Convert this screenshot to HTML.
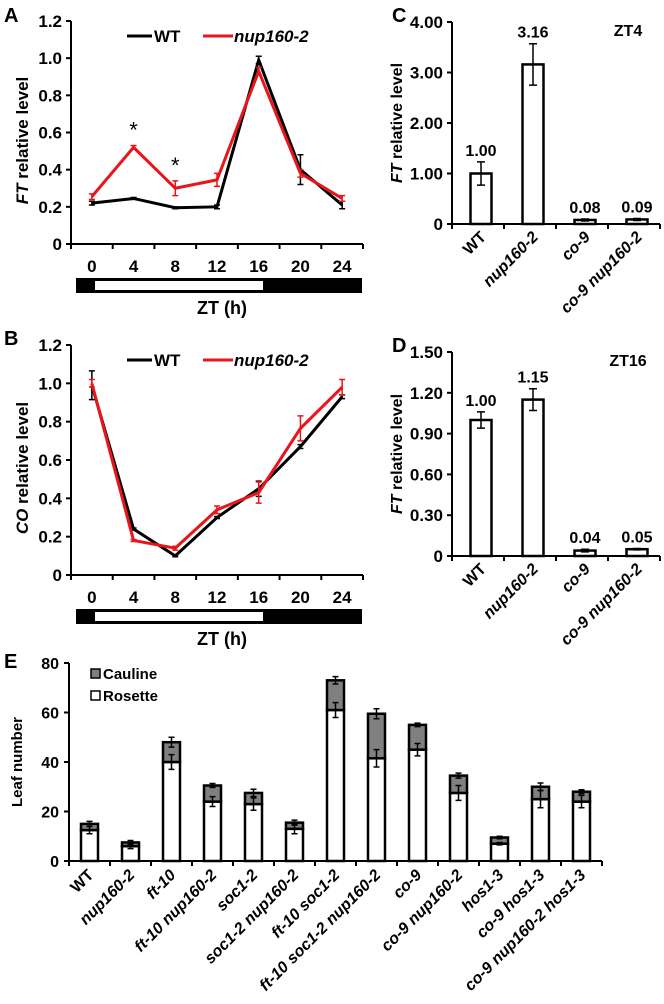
<!DOCTYPE html>
<html><head><meta charset="utf-8"><style>
html,body{margin:0;padding:0;background:#fff;}
svg{display:block;font-family:"Liberation Sans",Arial,sans-serif;font-weight:bold;}
</style></head><body>
<svg id="fig" width="664" height="1004" viewBox="0 0 664 1004" xmlns="http://www.w3.org/2000/svg"></svg>
<script>
// Panel A data (FT time course)
const ztLabels = ["0","4","8","12","16","20","24"];
const aWT = [0.22,0.245,0.195,0.20,0.99,0.40,0.21];
const aWTerr = [0.01,0.005,0.005,0.01,0.02,0.08,0.02];
const aMut = [0.255,0.52,0.30,0.345,0.93,0.38,0.245];
const aMutErr = [0.015,0.01,0.04,0.035,0.02,0.02,0.015];
const lineTicks = ["0","0.2","0.4","0.6","0.8","1.0","1.2"];
// Panel B data (CO time course)
const bWT = [0.99,0.24,0.10,0.30,0.45,0.67,0.93];
const bWTerr = [0.075,0.005,0.005,0.005,0.04,0.01,0.01];
const bMut = [1.0,0.18,0.14,0.34,0.43,0.765,0.98];
const bMutErr = [0.02,0.005,0.01,0.02,0.055,0.065,0.04];
// Panels C, D
const cdCats = ["WT","nup160-2","co-9","co-9 nup160-2"];
const cVals = [1.00,3.16,0.08,0.09];
const cErr = [0.23,0.41,0.02,0.02];
const cLabels = ["1.00","3.16","0.08","0.09"];
const cTicks = ["0","1.00","2.00","3.00","4.00"];
const dVals = [1.00,1.15,0.04,0.05];
const dErr = [0.06,0.08,0.01,0.005];
const dLabels = ["1.00","1.15","0.04","0.05"];
const dTicks = ["0","0.30","0.60","0.90","1.20","1.50"];
// Panel E
const eCats = ["WT","nup160-2","ft-10","ft-10 nup160-2","soc1-2","soc1-2 nup160-2","ft-10 soc1-2","ft-10 soc1-2 nup160-2","co-9","co-9 nup160-2","hos1-3","co-9 hos1-3","co-9 nup160-2 hos1-3"];
const eRosette = [12.5,6,40,24,23,13,61,41.5,45,27.5,7,25,24];
const eRosetteErr = [1.5,1,3,2,2.5,2,3,3.5,2.5,3,0.5,3.5,2.5];
const eTotal = [15,7.5,48,30.5,27.5,15.5,73,59.5,55,34.5,9.5,30,28];
const eTotalErr = [1,0.8,2,0.8,1.5,1,1.5,2,0.7,1,0.5,1.5,0.8];
const eTicks = ["0","20","40","60","80"];

const NS="http://www.w3.org/2000/svg";
const svg=document.getElementById('fig');
function mk(tag,attrs,parent){const e=document.createElementNS(NS,tag);for(const k in attrs)e.setAttribute(k,attrs[k]);(parent||svg).appendChild(e);return e;}
function txt(s,attrs,parent){const e=mk('text',attrs,parent);e.textContent=s;return e;}

function errBar(g,x,y1,y2,col,w){
  const l=mk('path',{d:`M${x},${y1}V${y2}M${x-w},${y1}H${x+w}M${x-w},${y2}H${x+w}`,stroke:col,'stroke-width':1.5,fill:'none'},g);
  
  
}

[["A",4,22],["B",4,345],["C",392,22],["D",392,352],["E",4,668]].forEach(p=>{
  const t=txt(p[0],{x:p[1],y:p[2],'font-size':20});
  
  
});

function linePanel(id,top,bottom,wt,wtE,mut,mutE,ytitle,stars){
  const g=mk('g',{});
  
  
  const x0=71,x1=363,n=7,step=(x1-x0)/n;
  const y=v=>bottom-(v/1.2)*(bottom-top);
  const xc=i=>x0+step*(i+0.5);
  mk('path',{d:`M${x0},${top}V${bottom}H${x1}`,stroke:'#000','stroke-width':2,fill:'none'},g);
  lineTicks.forEach((t,i)=>{const v=i*0.2;const yy=y(v);
    mk('line',{x1:x0-5,x2:x0,y1:yy,y2:yy,stroke:'#000','stroke-width':2},g);
    const tl=txt(t,{x:x0-9,y:yy+6,'text-anchor':'end','font-size':17},g);
    
    });
  for(let i=0;i<=n;i++)mk('line',{x1:x0+step*i,x2:x0+step*i,y1:bottom,y2:bottom+5,stroke:'#000','stroke-width':2},g);
  ztLabels.forEach((t,i)=>{const tl=txt(t,{x:xc(i),y:bottom+28,'text-anchor':'middle','font-size':17},g);
    
    });
  const yt=txt('',{transform:`translate(28,${(top+bottom)/2+8}) rotate(-90)`,'text-anchor':'middle','font-size':17},g);
  
  
  const it=mk('tspan',{'font-style':'italic'},yt);it.textContent=ytitle;
  const rt=mk('tspan',{},yt);rt.textContent=' relative level';
  [[wt,wtE,'#000','wt'],[mut,mutE,'#e8161b','mutant']].forEach(s=>{
    const pts=s[0].map((v,i)=>xc(i)+','+y(v)).join(' ');
    const pl=mk('polyline',{points:pts,fill:'none',stroke:s[2],'stroke-width':3},g);
    
    
    s[0].forEach((v,i)=>errBar(g,xc(i),y(v+s[1][i]),y(v-s[1][i]),s[2],3));
  });
  mk('line',{x1:127,x2:152,y1:top+15,y2:top+15,stroke:'#000','stroke-width':3},g);
  const l1=txt('WT',{x:154,y:top+21,'font-size':17},g);
  
  
  mk('line',{x1:203,x2:233,y1:top+15,y2:top+15,stroke:'#e8161b','stroke-width':3},g);
  const l2=txt('nup160-2',{x:234,y:top+21,'font-size':17,'font-style':'italic'},g);
  
  
  const bt=bottom+34;
  mk('rect',{x:76,y:bt,width:286,height:15,fill:'#000'},g);
  const wr=mk('rect',{x:95,y:bt+3,width:168,height:9,fill:'#fff'},g);
  
  
  const zt=txt('ZT (h)',{x:222,y:bt+36,'text-anchor':'middle','font-size':18},g);
  
  
  if(stars)stars.forEach(i=>{const s=txt('*',{x:xc(i),y:y(mut[i]+mutE[i])-8,'text-anchor':'middle','font-size':22,'font-weight':'normal'},g);
    
    });
}
linePanel('a',21,244,aWT,aWTerr,aMut,aMutErr,'FT',[1,2]);
linePanel('b',345,575,bWT,bWTerr,bMut,bMutErr,'CO',null);

function barPanel(id,top,bottom,vals,errs,labels,ticks,maxV,zt){
  const g=mk('g',{});
  
  
  const x0=452,x1=660,n=4,step=(x1-x0)/n;
  const y=v=>bottom-(v/maxV)*(bottom-top);
  const xc=i=>x0+step*(i+0.5)+3;
  mk('path',{d:`M${x0},${top}V${bottom}H${x1}`,stroke:'#000','stroke-width':2,fill:'none'},g);
  ticks.forEach((t,i)=>{const yy=bottom-(bottom-top)*i/(ticks.length-1);
    mk('line',{x1:x0-5,x2:x0,y1:yy,y2:yy,stroke:'#000','stroke-width':2},g);
    const tl=txt(t,{x:x0-9,y:yy+6,'text-anchor':'end','font-size':17},g);
    
    });
  for(let i=0;i<=n;i++)mk('line',{x1:x0+step*i,x2:x0+step*i,y1:bottom,y2:bottom+5,stroke:'#000','stroke-width':2},g);
  vals.forEach((v,i)=>{
    const r=mk('rect',{x:xc(i)-10.5,y:y(v),width:21,height:bottom-y(v),fill:'#fff',stroke:'#000','stroke-width':2.5},g);
    
    
    errBar(g,xc(i),y(v+errs[i]),y(v-errs[i]),'#000',4);
    const vl=txt(labels[i],{x:xc(i),y:y(v+errs[i])-6,'text-anchor':'middle','font-size':16},g);
    
    
    const cl=txt(cdCats[i],{transform:`translate(${xc(i)+6},${bottom+14}) rotate(-45)`,'text-anchor':'end','font-size':16,'font-style':i>0?'italic':'normal'},g);
    
    
  });
  const yt=txt('',{transform:`translate(402,${(top+bottom)/2}) rotate(-90)`,'text-anchor':'middle','font-size':16},g);
  
  
  const it=mk('tspan',{'font-style':'italic'},yt);it.textContent='FT';
  const rt=mk('tspan',{},yt);rt.textContent=' relative level';
  const z=txt(zt,{x:628,y:top+14,'text-anchor':'middle','font-size':16},g);
  
  
}
barPanel('c',22,224,cVals,cErr,cLabels,cTicks,4,'ZT4');
barPanel('d',352,556,dVals,dErr,dLabels,dTicks,1.5,'ZT16');

(function(){
  const g=mk('g',{});
  
  
  const top=663,bottom=861,x0=69,x1=602,n=13,step=(x1-x0)/n;
  const y=v=>bottom-(v/80)*(bottom-top);
  const xc=i=>x0+step*(i+0.5);
  mk('path',{d:`M${x0},${top}V${bottom}H${x1}`,stroke:'#000','stroke-width':2,fill:'none'},g);
  eTicks.forEach((t,i)=>{const yy=y(i*20);
    mk('line',{x1:x0-5,x2:x0,y1:yy,y2:yy,stroke:'#000','stroke-width':2},g);
    const tl=txt(t,{x:x0-10,y:yy+6,'text-anchor':'end','font-size':16},g);
    
    });
  for(let i=0;i<=n;i++)mk('line',{x1:x0+step*i,x2:x0+step*i,y1:bottom,y2:bottom+5,stroke:'#000','stroke-width':2},g);
  eCats.forEach((c,i)=>{
    const x=xc(i),w=17;
    const r=mk('rect',{x:x-w/2,y:y(eRosette[i]),width:w,height:bottom-y(eRosette[i]),fill:'#fff',stroke:'#000','stroke-width':2.5},g);
    
    
    const cr=mk('rect',{x:x-w/2,y:y(eTotal[i]),width:w,height:y(eRosette[i])-y(eTotal[i]),fill:'#808080',stroke:'#000','stroke-width':2.5},g);
    
    
    errBar(g,x,y(eRosette[i]+eRosetteErr[i]),y(eRosette[i]-eRosetteErr[i]),'#000',3);
    errBar(g,x,y(eTotal[i]+eTotalErr[i]),y(eTotal[i]-eTotalErr[i]),'#000',3);
    const cl=txt(c,{transform:`translate(${x+5},${bottom+15}) rotate(-45)`,'text-anchor':'end','font-size':16,'font-style':i>0?'italic':'normal'},g);
    
    
  });
  const yt=txt('Leaf number',{transform:`translate(22,${(top+bottom)/2}) rotate(-90)`,'text-anchor':'middle','font-size':15},g);
  
  
  mk('rect',{x:91,y:669,width:9,height:9,fill:'#808080',stroke:'#000','stroke-width':1.5},g);
  const l1=txt('Cauline',{x:103,y:679,'font-size':15},g);
  
  
  mk('rect',{x:91,y:691,width:9,height:9,fill:'#fff',stroke:'#000','stroke-width':1.5},g);
  const l2=txt('Rosette',{x:103,y:701,'font-size':15},g);
  
  
})();
</script>
</body></html>
